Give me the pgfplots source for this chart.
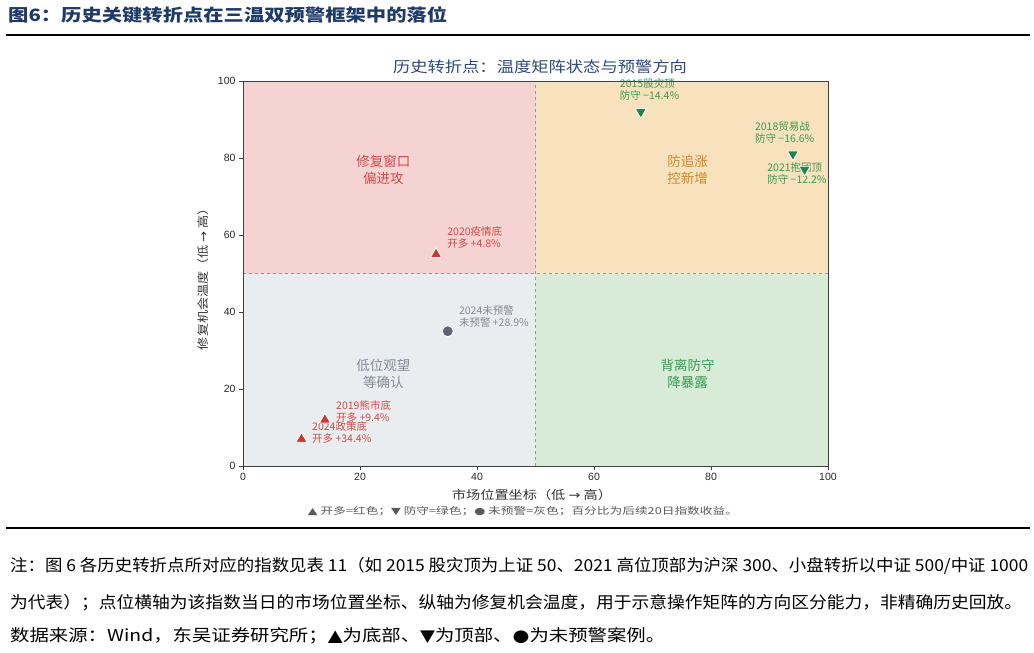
\documentclass[border=0pt]{standalone}
\usepackage{fontspec}
\usepackage{graphicx}
\usepackage{pgfplots}
\pgfplotsset{compat=1.18}
\setmainfont{Noto Sans CJK SC}
\newfontfamily\cjk{Noto Sans CJK SC}
\newfontfamily\tickfont{Liberation Sans}
\newfontfamily\symfont{DejaVu Sans}
\definecolor{qpink}{HTML}{F5D3D3}
\definecolor{qorange}{HTML}{F8E1BD}
\definecolor{qgray}{HTML}{EAEDF0}
\definecolor{qgreen}{HTML}{D7EBD7}
\definecolor{mred}{HTML}{C63A32}
\definecolor{mgreen}{HTML}{1E8449}
\definecolor{mgray}{HTML}{5F6577}
\definecolor{tred}{HTML}{D24A45}
\definecolor{tgreen}{HTML}{3A9A55}
\definecolor{tgray}{HTML}{858A96}
\definecolor{torange}{HTML}{C98B2E}
\definecolor{titleblue}{HTML}{1F3A66}
\definecolor{ctitle}{HTML}{2E4A7A}
\begin{document}
\begin{tikzpicture}
\useasboundingbox (0pt,0pt) rectangle (1034pt,-653pt);
% header
\node[anchor=west, inner sep=0pt, text=titleblue] at (8pt,-15pt)
  {\resizebox{439pt}{\height}{\fontsize{17}{20}\selectfont\bfseries 图6：历史关键转折点在三温双预警框架中的落位}};
\draw[line width=2.6pt, black] (6pt,-35pt) -- (1030pt,-35pt);
% chart title
\node[inner sep=0pt, text=ctitle] at (540pt,-67pt)
  {\resizebox{294pt}{\height}{\fontsize{15}{18}\selectfont 历史转折点：温度矩阵状态与预警方向}};
\begin{axis}[
  at={(243pt,-466pt)}, anchor=south west,
  scale only axis, width=585pt, height=385pt,
  xmin=0, xmax=100, ymin=0, ymax=100,
  xtick={0,20,...,100}, ytick={0,20,...,100},
  tick align=outside, tick pos=left,
  major tick length=4pt,
  axis line style={black!75, line width=0.8pt},
  tick style={black!75, line width=0.8pt},
  ticklabel style={font=\tickfont\fontsize{10.5}{12}\selectfont, text=black!85},
  /pgf/number format/assume math mode=true,
  axis on top,
  clip=false,
]
% quadrants
\addplot[fill=qpink, draw=none] coordinates {(0,50) (50,50) (50,100) (0,100)} -- cycle;
\addplot[fill=qorange, draw=none] coordinates {(50,50) (100,50) (100,100) (50,100)} -- cycle;
\addplot[fill=qgray, draw=none] coordinates {(0,0) (50,0) (50,50) (0,50)} -- cycle;
\addplot[fill=qgreen, draw=none] coordinates {(50,0) (100,0) (100,50) (50,50)} -- cycle;
\addplot[draw=black!40, dashed, line width=0.7pt] coordinates {(50,0) (50,100)};
\addplot[draw=black!40, dashed, line width=0.7pt] coordinates {(0,50) (100,50)};
% quadrant labels
\node[align=center, text=tred, font=\fontsize{13.5}{17}\selectfont] at (axis cs:24,77) {修复窗口\\偏进攻};
\node[align=center, text=torange, font=\fontsize{13.5}{17}\selectfont] at (axis cs:76,77) {防追涨\\控新增};
\node[align=center, text=tgray, font=\fontsize{13.5}{17}\selectfont] at (axis cs:24,24) {低位观望\\等确认};
\node[align=center, text=tgreen, font=\fontsize{13.5}{17}\selectfont] at (axis cs:76,24) {背离防守\\降暴露};
% points
\addplot[only marks, mark=triangle*, mark size=6.5pt, mark options={fill=mred, draw=white, line width=0.8pt}]
  coordinates {(33,55) (14,12) (10,7)};
\addplot[only marks, mark=triangle*, mark size=6.5pt, mark options={rotate=180, fill=mgreen, draw=white, line width=0.8pt}]
  coordinates {(68,92) (94,81) (96,77)};
\addplot[only marks, mark=*, mark size=5.5pt, mark options={fill=mgray, draw=white, line width=0.8pt}]
  coordinates {(35,35)};
% annotations
\tikzset{ann/.style={anchor=north west, inner sep=0pt, align=left, font=\fontsize{10.5}{12.5}\selectfont}}
\node[ann, text=tgreen] at (axis cs:64.4,100.8) {2015股灾顶\\防守 −14.4\%};
\node[ann, text=tgreen] at (axis cs:87.5,89.6) {2018贸易战\\防守 −16.6\%};
\node[ann, text=tgreen] at (axis cs:89.6,78.9) {2021抱团顶\\防守 −12.2\%};
\node[ann, text=tred] at (axis cs:34.9,62.3) {2020疫情底\\开多 +4.8\%};
\node[ann, text=tgray] at (axis cs:36.9,41.8) {2024未预警\\未预警 +28.9\%};
\node[ann, text=tred] at (axis cs:15.9,17.1) {2019熊市底\\开多 +9.4\%};
\node[ann, text=tred] at (axis cs:11.8,11.6) {2024政策底\\开多 +34.4\%};
\end{axis}
% axis labels
\node[inner sep=0pt, text=black!80] at (532pt,-495pt)
  {\resizebox{160pt}{\height}{\fontsize{12}{14}\selectfont 市场位置坐标（低 {\symfont →} 高）}};
\node[inner sep=0pt, rotate=90, text=black!80] at (203pt,-276pt)
  {\resizebox{148pt}{\height}{\fontsize{11.5}{14}\selectfont 修复机会温度（低 {\symfont →} 高）}};
\node[inner sep=0pt, text=black!65] at (523pt,-511pt)
  {\resizebox{430pt}{\height}{\fontsize{9.5}{12}\selectfont {\symfont ▲} 开多=红色；{\symfont ▼} 防守=绿色；{\symfont ●} 未预警=灰色；百分比为后续20日指数收益。}};
\draw[line width=1.6pt, black] (6pt,-528pt) -- (1030pt,-528pt);
% footer
\node[anchor=west, inner sep=0pt] at (10pt,-566pt)
  {\resizebox{1018pt}{\height}{\fontsize{16.5}{20}\selectfont 注：图 6 各历史转折点所对应的指数见表 11（如 2015 股灾顶为上证 50、2021 高位顶部为沪深 300、小盘转折以中证 500/中证 1000}};
\node[anchor=west, inner sep=0pt] at (10pt,-603pt)
  {\resizebox{1012pt}{\height}{\fontsize{16.5}{20}\selectfont 为代表）；点位横轴为该指数当日的市场位置坐标、纵轴为修复机会温度，用于示意操作矩阵的方向区分能力，非精确历史回放。}};
\node[anchor=west, inner sep=0pt] at (10pt,-636pt)
  {\resizebox{655pt}{\height}{\fontsize{16.5}{20}\selectfont 数据来源：Wind，东吴证券研究所；{\symfont ▲}为底部、{\symfont ▼}为顶部、{\symfont ●}为未预警案例。}};
\end{tikzpicture}
\end{document}
